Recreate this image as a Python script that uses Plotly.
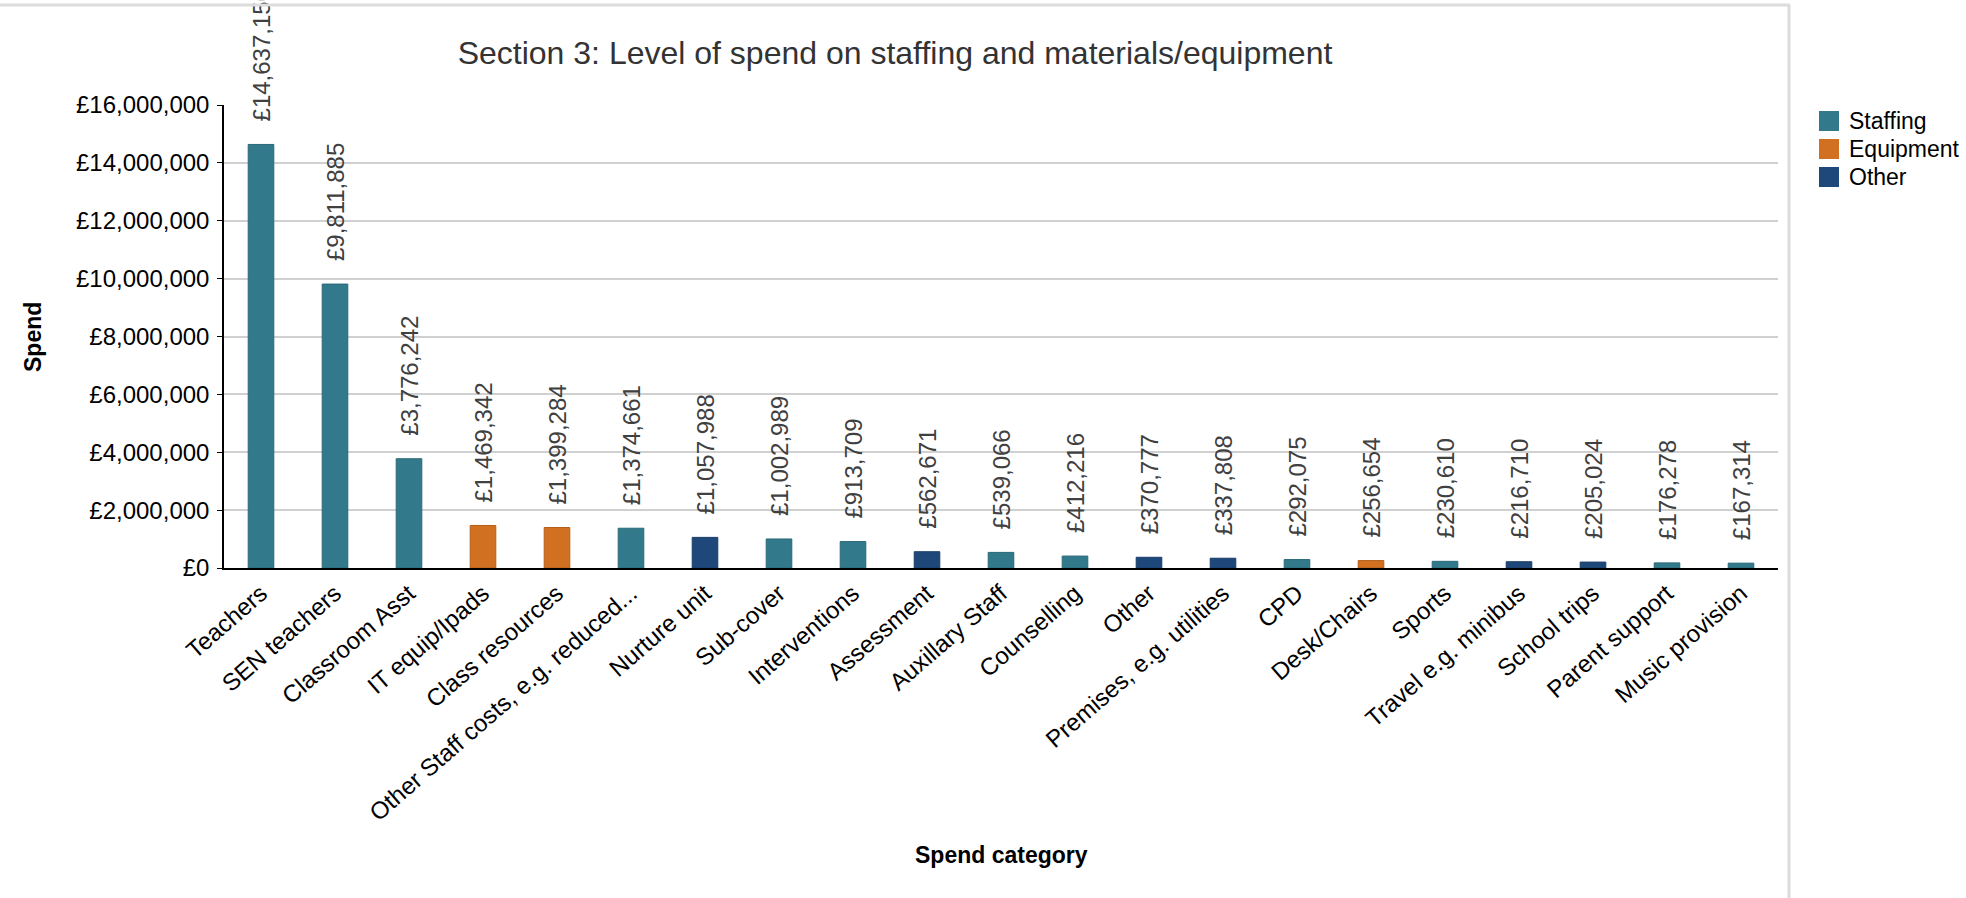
import plotly.graph_objects as go

# Spend categories in display order
categories = [
    "Teachers", "SEN teachers", "Classroom Asst", "IT equip/Ipads", "Class resources",
    "Other Staff costs, e.g. reduced...", "Nurture unit", "Sub-cover", "Interventions",
    "Assessment", "Auxillary Staff", "Counselling", "Other", "Premises, e.g. utilities",
    "CPD", "Desk/Chairs", "Sports", "Travel e.g. minibus", "School trips",
    "Parent support", "Music provision",
]
spend = [
    14637150, 9811885, 3776242, 1469342, 1399284,
    1374661, 1057988, 1002989, 913709,
    562671, 539066, 412216, 370777, 337808,
    292075, 256654, 230610, 216710, 205024,
    176278, 167314,
]
group = [
    "Staffing", "Staffing", "Staffing", "Equipment", "Equipment",
    "Staffing", "Other", "Staffing", "Staffing",
    "Other", "Staffing", "Staffing", "Other", "Other",
    "Staffing", "Equipment", "Staffing", "Other", "Other",
    "Staffing", "Staffing",
]
groups = ["Staffing", "Equipment", "Other"]
colors = {"Staffing": "#327a8b", "Equipment": "#d07020", "Other": "#1f487a"}
edge = {"Staffing": "#2a6877", "Equipment": "#b35f1a", "Other": "#1a3d68"}
y_ticks = [0, 2000000, 4000000, 6000000, 8000000, 10000000, 12000000, 14000000, 16000000]
y_tick_text = ["£{:,}".format(v) for v in y_ticks]

FONT = "Liberation Sans, Arial, sans-serif"
W, H = 1966, 898
L, R, T, B = 224, 188, 105, 330
PW, PH = W - L - R, H - T - B


def px_x(p):
    return (p - L) / PW


def px_y(p):
    return (H - B - p) / PH


fig = go.Figure()
for g in groups:
    xs = [c for c, gg in zip(categories, group) if gg == g]
    ys = [v for v, gg in zip(spend, group) if gg == g]
    fig.add_trace(go.Bar(
        x=xs, y=ys, name=g,
        marker=dict(color=colors[g], line=dict(color=edge[g], width=1)),
        texttemplate="\u00a0\u00a0\u00a0£%{y:,.0f}",
        textposition="outside", textangle=-90, constraintext="none",
        textfont=dict(family=FONT, size=24, color="#404040"),
        cliponaxis=False, showlegend=False,
    ))

shapes = [
    # surrounding panel edges
    dict(type="line", xref="paper", yref="paper", x0=px_x(0), x1=px_x(1790),
         y0=px_y(5), y1=px_y(5), line=dict(color="#dcdcdc", width=3)),
    dict(type="line", xref="paper", yref="paper", x0=px_x(1789), x1=px_x(1789),
         y0=px_y(5), y1=px_y(H + 5), line=dict(color="#dcdcdc", width=3)),
]
annotations = [
    dict(text="<b>Spend</b>", xref="paper", yref="paper", x=px_x(33), y=px_y(337),
         textangle=-90, showarrow=False, font=dict(family=FONT, size=23, color="#000000"),
         xanchor="center", yanchor="middle"),
    dict(text="<b>Spend category</b>", xref="paper", yref="paper", x=px_x(1001), y=px_y(855),
         showarrow=False, font=dict(family=FONT, size=23, color="#000000"),
         xanchor="center", yanchor="middle"),
]
# legend entries
for i, g in enumerate(groups):
    cy = 121 + 28 * i
    shapes.append(dict(type="rect", xref="paper", yref="paper",
                       x0=px_x(1819), x1=px_x(1839), y0=px_y(cy - 10), y1=px_y(cy + 10),
                       fillcolor=colors[g], line=dict(width=0)))
    annotations.append(dict(text=g, xref="paper", yref="paper", x=px_x(1847), y=px_y(cy),
                            xanchor="left", yanchor="middle", showarrow=False,
                            font=dict(family=FONT, size=23, color="#000000")))

fig.update_layout(
    width=W, height=H,
    margin=dict(l=L, r=R, t=T, b=B, autoexpand=False),
    paper_bgcolor="#ffffff", plot_bgcolor="#ffffff",
    barmode="overlay", bargap=0.654,
    showlegend=False,
    font=dict(family=FONT, size=24, color="#000000"),
    title=dict(text="Section 3: Level of spend on staffing and materials/equipment",
               x=895 / W, xref="container", xanchor="center",
               y=1 - 53 / H, yref="container", yanchor="middle",
               font=dict(family=FONT, size=32, color="#333333")),
    xaxis=dict(categoryorder="array", categoryarray=categories,
               tickangle=-41, showline=True, linecolor="#000000", linewidth=2,
               ticks="", showgrid=False, tickfont=dict(family=FONT, size=24, color="#000000")),
    yaxis=dict(range=[0, 16000000], tickmode="array", tickvals=y_ticks, ticktext=y_tick_text,
               showline=True, linecolor="#000000", linewidth=1.5,
               ticks="outside", ticklen=5, tickcolor="#000000", tickwidth=1,
               ticklabelstandoff=3,
               showgrid=True, gridcolor="#d0d0d0", gridwidth=2, zeroline=False,
               tickfont=dict(family=FONT, size=24, color="#000000")),
    shapes=shapes, annotations=annotations,
)

fig.write_html("out.html")
